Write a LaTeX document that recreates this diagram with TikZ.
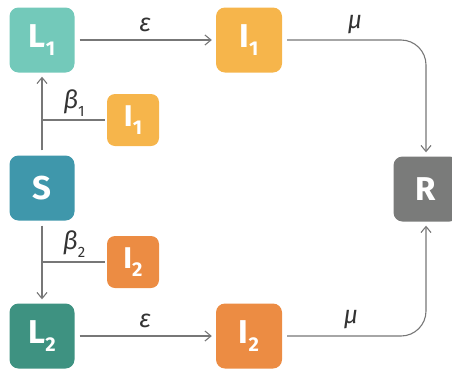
\documentclass[tikz,border=0pt]{standalone}
\usepackage{fontspec}
\setmainfont{Fira Sans}
\usetikzlibrary{arrows.meta}
\definecolor{cL1}{HTML}{73C9BA}
\definecolor{cI1}{HTML}{F6B54B}
\definecolor{cS}{HTML}{3F97AB}
\definecolor{cL2}{HTML}{3E9281}
\definecolor{cI2}{HTML}{EC8C43}
\definecolor{cR}{HTML}{7A7B7A}
\definecolor{cline}{HTML}{777777}
\definecolor{ctext}{HTML}{333333}
\tikzset{
  bigbox/.style={rounded corners=9pt, minimum width=65pt, minimum height=65pt, inner sep=0pt, text=white, font=\fontsize{33}{33}\selectfont\bfseries},
  smallbox/.style={rounded corners=8pt, minimum width=52pt, minimum height=52pt, inner sep=0pt, text=white, font=\fontsize{30}{30}\selectfont\bfseries},
  flow/.style={draw=cline, line width=1.1pt, -{Straight Barb[length=6pt,width=10pt,line width=1.1pt]}, shorten >=4pt, shorten <=5pt},
  plain/.style={draw=cline, line width=1.1pt},
  rate/.style={text=ctext, font=\fontsize{25}{25}\selectfont\itshape, inner sep=0pt},
}
\newcommand{\sbx}[1]{\raisebox{-0.25em}{\fontsize{20}{20}\selectfont #1}}
\newcommand{\srt}[1]{\raisebox{-0.3em}{\fontsize{15}{15}\selectfont\upshape #1}}
\begin{document}
\begin{tikzpicture}[x=1pt,y=-1pt]
\clip (0,0) rectangle (452,370);
\useasboundingbox (0,0) rectangle (452,370);
\node[bigbox, fill=cL1] (L1) at (42,40) {L\sbx{1}};
\node[bigbox, fill=cI1, minimum width=66pt] (I1) at (249,40) {I\sbx{1}};
\node[smallbox, fill=cI1] (sI1) at (133,120) {I\sbx{1}};
\node[bigbox, fill=cS] (S) at (42,188) {S};
\node[smallbox, fill=cI2] (sI2) at (133,262) {I\sbx{2}};
\node[bigbox, fill=cL2] (L2) at (42,336) {L\sbx{2}};
\node[bigbox, fill=cI2, minimum width=66pt] (I2) at (249,336) {I\sbx{2}};
\node[bigbox, fill=cR] (R) at (426,189) {R};
\coordinate (j1) at (42,120);
\coordinate (j2) at (42,262);
\draw[flow] (L1) -- (I1) node[rate, midway, above=8pt] {ε};
\draw[flow] (L2) -- (I2) node[rate, midway, above=8pt] {ε};
\draw[flow] (S) -- (L1);
\draw[flow] (S) -- (L2);
\draw[plain, shorten <=2pt] (sI1.west) -- (j1);
\draw[plain, shorten <=2pt] (sI2.west) -- (j2);
\node[rate] (b1) at (74,103) {β\srt{1}};
\node[rate] (b2) at (74,244) {β\srt{2}};
\draw[flow, rounded corners=25pt] (I1.east) -| (R.north);
\draw[flow, rounded corners=25pt] (I2.east) -| (R.south);
\node[rate] (m1) at (355,25) {μ};
\node[rate] (m2) at (351,320) {μ};
\end{tikzpicture}
\end{document}
